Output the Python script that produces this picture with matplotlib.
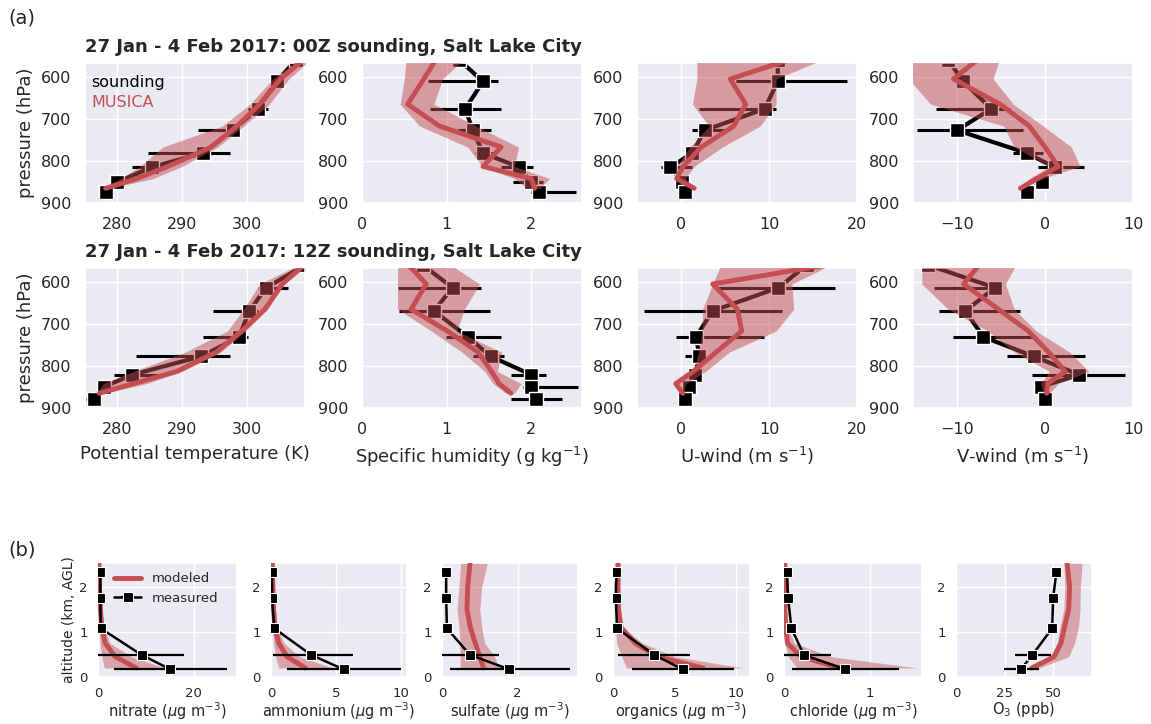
import numpy as np
import matplotlib
matplotlib.use("Agg")
import matplotlib.pyplot as plt
import seaborn as sns

sns.set_theme(style="darkgrid")
plt.rcParams["font.family"] = ["DejaVu Sans"]

RED = "#c44e52"
INK = "#262626"

# ---------------- (a) soundings vs MUSICA ----------------
# sounding pressure levels (hPa)
p_snd_00 = [560, 611, 676, 727, 781, 815, 850, 873]
p_snd_12 = [560, 614, 669, 731, 777, 821, 849, 878]
# model pressure levels (hPa)
p_mod = [560, 605, 665, 717, 767, 813, 842, 865]

# 00Z soundings: mean, low, high
theta00 = [307.6, 304.6, 301.7, 297.8, 293.2, 285.3, 280.0, 278.3]
theta00_lo = [307.3, 304.1, 300.2, 292.4, 284.7, 282.3, 278.8, 277.9]
theta00_hi = [307.9, 305.1, 303.3, 298.6, 297.4, 287.5, 281.5, 278.7]
qv00 = [1.15, 1.43, 1.22, 1.31, 1.43, 1.86, 2.00, 2.09]
qv00_lo = [1.12, 0.78, 0.80, 1.13, 1.33, 1.64, 1.78, 2.00]
qv00_hi = [1.18, 1.61, 1.64, 1.53, 1.55, 2.02, 2.14, 2.53]
u00 = [11.0, 11.0, 9.5, 2.7, 1.3, -1.2, 0.15, 0.5]
u00_lo = [10.7, 6.2, 2.0, 1.3, 0.5, -2.3, -0.3, 0.2]
u00_hi = [11.3, 18.9, 10.8, 4.9, 2.1, 1.3, 0.6, 0.8]
v00 = [-11.0, -9.3, -6.1, -10.0, -2.1, 1.1, -0.3, -2.0]
v00_lo = [-11.3, -9.8, -12.4, -14.6, -3.6, -0.8, -0.6, -2.3]
v00_hi = [-10.7, -8.8, -4.0, -2.5, -0.2, 4.4, 0.0, -1.7]

# 12Z soundings
theta12 = [309.0, 303.0, 300.4, 298.8, 293.0, 282.3, 278.0, 276.4]
theta12_lo = [308.7, 301.8, 294.8, 293.2, 282.9, 279.5, 277.3, 275.2]
theta12_hi = [309.3, 306.4, 301.8, 300.2, 297.4, 286.5, 279.0, 277.0]
qv12 = [0.72, 1.07, 0.85, 1.25, 1.52, 2.00, 2.00, 2.06]
qv12_lo = [0.70, 0.42, 0.44, 0.99, 1.31, 1.76, 1.90, 1.76]
qv12_hi = [0.74, 1.41, 1.51, 1.64, 1.68, 2.18, 2.55, 2.36]
u12 = [14.3, 11.06, 3.6, 1.7, 2.1, 1.6, 0.9, 0.4]
u12_lo = [14.0, 4.0, -4.2, -0.6, 0.4, 1.3, 0.6, 0.1]
u12_hi = [14.6, 17.55, 11.5, 9.4, 2.8, 1.9, 1.2, 0.7]
v12 = [-13.3, -5.66, -9.06, -7.0, -1.3, 3.9, -0.45, 0.0]
v12_lo = [-13.6, -12.6, -12.0, -10.4, -4.3, -1.5, -0.7, -0.3]
v12_hi = [-13.0, -4.9, -2.8, -1.1, 4.5, 9.06, -0.2, 0.3]

# MUSICA 00Z: mean, low, high
theta00_m = [308.7, 305.2, 302.0, 298.5, 294.5, 287.8, 283.0, 278.2]
theta00_m_lo = [307.8, 304.0, 300.5, 296.2, 287.0, 283.5, 280.5, 277.6]
theta00_m_hi = [309.8, 306.5, 303.5, 299.5, 295.5, 290.0, 285.5, 278.8]
qv00_m = [0.87, 0.73, 0.54, 0.915, 1.645, 1.43, 2.00, 2.04]
qv00_m_lo = [0.52, 0.50, 0.45, 0.68, 1.25, 1.42, 1.80, 1.95]
qv00_m_hi = [1.20, 0.95, 0.85, 1.35, 1.85, 1.80, 2.22, 2.10]
u00_m = [12.2, 5.6, 7.35, 6.0, 2.3, 0.25, -0.5, 1.5]
u00_m_lo = [1.8, 1.8, 1.3, 3.2, 1.0, -0.5, -0.7, 1.0]
u00_m_hi = [16.0, 10.8, 10.8, 9.0, 4.7, 1.5, 0.5, 1.7]
v00_m = [-7.7, -10.4, -5.1, -1.8, 0.0, 1.5, -0.9, -2.8]
v00_m_lo = [-15.5, -15.5, -13.0, -4.7, -3.5, 0.5, -1.8, -3.0]
v00_m_hi = [-5.2, -5.9, -3.6, -0.2, 3.0, 4.0, -0.3, -2.5]

# MUSICA 12Z
theta12_m = [308.8, 305.5, 302.8, 299.2, 295.3, 289.2, 282.5, 277.2]
theta12_m_lo = [308.0, 302.0, 299.5, 297.0, 290.5, 282.5, 277.8, 276.8]
theta12_m_hi = [309.5, 305.8, 303.2, 299.8, 296.0, 290.0, 284.5, 278.0]
qv12_m = [0.55, 0.76, 0.58, 1.01, 1.37, 1.53, 1.62, 1.76]
qv12_m_lo = [0.42, 0.42, 0.42, 0.82, 1.18, 1.45, 1.55, 1.70]
qv12_m_hi = [1.05, 1.39, 1.21, 1.12, 1.65, 1.60, 1.88, 1.80]
u12_m = [16.5, 3.6, 6.4, 6.9, 4.0, 1.4, -0.6, 0.2]
u12_m_lo = [4.5, 3.6, 2.45, 2.4, 2.0, 1.4, -0.6, 0.2]
u12_m_hi = [17.0, 12.6, 12.8, 10.8, 5.5, 2.8, 0.5, 0.3]
v12_m = [-7.5, -9.25, -5.3, -1.9, 0.4, 2.3, 0.3, 0.2]
v12_m_lo = [-14.0, -14.0, -11.0, -6.5, -3.5, 0.5, -0.5, -0.2]
v12_m_hi = [-3.3, -4.5, -3.5, -1.0, 2.8, 5.0, 1.5, 0.5]

a_xlabels = ["Potential temperature (K)", r"Specific humidity (g kg$^{-1}$)",
             r"U-wind (m s$^{-1}$)", r"V-wind (m s$^{-1}$)"]
a_xlims = [(275, 309), (0, 2.6), (-5, 20), (-15, 10)]
a_xticks = [[280, 290, 300], [0, 1, 2], [0, 10, 20], [-10, 0, 10]]
a_titles = ["27 Jan - 4 Feb 2017: 00Z sounding, Salt Lake City",
            "27 Jan - 4 Feb 2017: 12Z sounding, Salt Lake City"]
p_ticks = [600, 700, 800, 900]

# ---------------- (b) aircraft profiles ----------------
alt_meas = [0.17, 0.49, 1.08, 1.76, 2.34]
alt_mod = [0.2, 0.45, 0.75, 1.1, 1.5, 2.0, 2.6]

nitrate_meas = [15.1, 9.1, 0.55, 0.5, 0.5]
nitrate_meas_lo = [3.3, 0.0, 0.35, 0.35, 0.35]
nitrate_meas_hi = [27.0, 17.9, 0.75, 0.65, 0.65]
nitrate_mod = [8.0, 3.6, 1.5, 0.8, 0.5, 0.3, 0.2]
nitrate_mod_lo = [1.3, 0.8, 0.4, 0.2, 0.1, 0.05, 0.05]
nitrate_mod_hi = [14.0, 7.0, 2.5, 1.2, 0.8, 0.5, 0.4]

ammonium_meas = [5.6, 3.1, 0.25, 0.08, 0.08]
ammonium_meas_lo = [1.2, 0.15, 0.15, 0.05, 0.05]
ammonium_meas_hi = [10.0, 6.3, 0.35, 0.12, 0.12]
ammonium_mod = [2.65, 1.24, 0.6, 0.3, 0.2, 0.15, 0.1]
ammonium_mod_lo = [0.6, 0.35, 0.2, 0.1, 0.07, 0.05, 0.05]
ammonium_mod_hi = [4.8, 2.2, 1.0, 0.5, 0.35, 0.25, 0.2]

sulfate_meas = [1.78, 0.74, 0.13, 0.11, 0.11]
sulfate_meas_lo = [0.2, 0.0, 0.09, 0.09, 0.09]
sulfate_meas_hi = [3.4, 1.5, 0.17, 0.13, 0.13]
sulfate_mod = [1.1, 1.0, 0.88, 0.75, 0.66, 0.68, 0.75]
sulfate_mod_lo = [0.48, 0.48, 0.48, 0.45, 0.40, 0.45, 0.50]
sulfate_mod_hi = [1.52, 1.39, 1.13, 1.05, 1.0, 1.05, 1.22]

organics_meas = [5.65, 3.35, 0.33, 0.22, 0.27]
organics_meas_lo = [1.5, 0.4, 0.2, 0.15, 0.2]
organics_meas_hi = [9.8, 6.2, 0.45, 0.3, 0.35]
organics_mod = [7.3, 3.6, 1.8, 0.65, 0.45, 0.4, 0.4]
organics_mod_lo = [1.1, 0.7, 0.3, 0.2, 0.2, 0.25, 0.3]
organics_mod_hi = [10.6, 5.0, 2.4, 0.8, 0.6, 0.55, 0.6]

chloride_meas = [0.71, 0.23, 0.086, 0.047, 0.035]
chloride_meas_lo = [0.09, 0.0, 0.06, 0.03, 0.02]
chloride_meas_hi = [1.33, 0.55, 0.11, 0.06, 0.05]
chloride_mod = [0.65, 0.2, 0.04, 0.02, 0.01, 0.01, 0.01]
chloride_mod_lo = [0.15, 0.05, 0.01, 0.0, 0.0, 0.0, 0.0]
chloride_mod_hi = [1.55, 0.55, 0.12, 0.04, 0.03, 0.03, 0.03]

o3_meas = [33.4, 39.3, 49.5, 50.0, 51.7]
o3_meas_lo = [24.6, 30.5, 49.0, 49.5, 51.2]
o3_meas_hi = [42.7, 48.7, 50.0, 50.5, 52.2]
o3_mod = [39.0, 50.5, 54.0, 55.8, 58.0, 58.5, 57.0]
o3_mod_lo = [37.5, 48.5, 52.0, 53.5, 55.5, 56.0, 55.5]
o3_mod_hi = [42.7, 58.0, 61.0, 63.0, 63.8, 64.0, 65.0]

b_xlabels = [r"nitrate ($\mu$g m$^{-3}$)", r"ammonium ($\mu$g m$^{-3}$)",
             r"sulfate ($\mu$g m$^{-3}$)", r"organics ($\mu$g m$^{-3}$)",
             r"chloride ($\mu$g m$^{-3}$)", r"O$_3$ (ppb)"]
b_xlims = [(0, 29), (0, 10.5), (0, 3.6), (0, 11.1), (0, 1.6), (0, 70)]
b_xticks = [[0, 20], [0, 5, 10], [0, 2], [0, 5, 10], [0, 1], [0, 25, 50]]
alt_ticks = [0, 1, 2]

# ---------------- figure ----------------
W, H = 1151, 724
fig = plt.figure(figsize=(W / 100, H / 100), dpi=100)


def px_axes(left, top, right, bottom):
    return fig.add_axes([left / W, 1 - bottom / H, (right - left) / W, (bottom - top) / H])


def sounding_panel(ax, p_s, x, lo, hi, xm, xm_lo, xm_hi):
    x = np.asarray(x); lo = np.asarray(lo); hi = np.asarray(hi)
    xerr = np.vstack([np.clip(x - lo, 0, None), np.clip(hi - x, 0, None)])
    ax.errorbar(x, p_s, xerr=xerr, fmt="-s", color="black", lw=3, elinewidth=2.2,
                capsize=0, ms=9.5, mec="white", mew=1, zorder=2)
    ax.fill_betweenx(p_mod, xm_lo, xm_hi, color=RED, alpha=0.5, lw=0, zorder=3)
    ax.plot(xm, p_mod, color=RED, lw=3.5, zorder=4)


col_lr = [(85, 305), (362, 582), (637, 857), (913, 1133)]
rows = [(63, 203), (268, 408)]

snd = [
    [(theta00, theta00_lo, theta00_hi), (qv00, qv00_lo, qv00_hi),
     (u00, u00_lo, u00_hi), (v00, v00_lo, v00_hi)],
    [(theta12, theta12_lo, theta12_hi), (qv12, qv12_lo, qv12_hi),
     (u12, u12_lo, u12_hi), (v12, v12_lo, v12_hi)],
]
mod = [
    [(theta00_m, theta00_m_lo, theta00_m_hi), (qv00_m, qv00_m_lo, qv00_m_hi),
     (u00_m, u00_m_lo, u00_m_hi), (v00_m, v00_m_lo, v00_m_hi)],
    [(theta12_m, theta12_m_lo, theta12_m_hi), (qv12_m, qv12_m_lo, qv12_m_hi),
     (u12_m, u12_m_lo, u12_m_hi), (v12_m, v12_m_lo, v12_m_hi)],
]
p_snd = [p_snd_00, p_snd_12]

for r, (top, bot) in enumerate(rows):
    for c, (lft, rgt) in enumerate(col_lr):
        ax = px_axes(lft, top, rgt, bot)
        sounding_panel(ax, p_snd[r], *snd[r][c], *mod[r][c])
        ax.set_ylim(900, 567)
        ax.set_xlim(*a_xlims[c])
        ax.set_xticks(a_xticks[c])
        ax.set_yticks(p_ticks)
        ax.tick_params(labelsize=11.5, colors=INK, pad=4)
        if c == 0:
            ax.set_ylabel("pressure (hPa)", fontsize=13, color=INK)
        if r == 1:
            ax.set_xlabel(a_xlabels[c], fontsize=13, color=INK, labelpad=6)
        if r == 0 and c == 0:
            ax.text(0.03, 0.86, "sounding", transform=ax.transAxes, fontsize=11.5,
                    color="black", va="center")
            ax.text(0.03, 0.72, "MUSICA", transform=ax.transAxes, fontsize=11.5,
                    color=RED, va="center")
    fig.text(85 / W, 1 - (top - 16) / H, a_titles[r], fontsize=13, fontweight="bold",
             color=INK, va="center")

b_cols = [(98, 237), (271, 407), (442, 578), (613, 750), (784, 922), (956, 1092)]
b_meas = [(nitrate_meas, nitrate_meas_lo, nitrate_meas_hi),
          (ammonium_meas, ammonium_meas_lo, ammonium_meas_hi),
          (sulfate_meas, sulfate_meas_lo, sulfate_meas_hi),
          (organics_meas, organics_meas_lo, organics_meas_hi),
          (chloride_meas, chloride_meas_lo, chloride_meas_hi),
          (o3_meas, o3_meas_lo, o3_meas_hi)]
b_mod = [(nitrate_mod, nitrate_mod_lo, nitrate_mod_hi),
         (ammonium_mod, ammonium_mod_lo, ammonium_mod_hi),
         (sulfate_mod, sulfate_mod_lo, sulfate_mod_hi),
         (organics_mod, organics_mod_lo, organics_mod_hi),
         (chloride_mod, chloride_mod_lo, chloride_mod_hi),
         (o3_mod, o3_mod_lo, o3_mod_hi)]

for i, (lft, rgt) in enumerate(b_cols):
    ax = px_axes(lft, 563, rgt, 677)
    xm, xm_lo, xm_hi = b_mod[i]
    ax.fill_betweenx(alt_mod, xm_lo, xm_hi, color=RED, alpha=0.45, lw=0, zorder=2)
    ax.plot(xm, alt_mod, color=RED, lw=3.5, zorder=3, label="modeled")
    x, lo, hi = (np.asarray(a) for a in b_meas[i])
    xerr = np.vstack([np.clip(x - lo, 0, None), np.clip(hi - x, 0, None)])
    ax.errorbar(x, alt_meas, xerr=xerr, fmt="-s", color="black", lw=1.8,
                elinewidth=1.6, capsize=0, ms=7, mec="white", mew=0.8, zorder=4,
                label="measured")
    ax.set_xlim(*b_xlims[i])
    ax.set_ylim(0, 2.53)
    ax.set_xticks(b_xticks[i])
    ax.set_yticks(alt_ticks)
    ax.tick_params(labelsize=9.5, colors=INK, pad=1.5)
    ax.set_xlabel(b_xlabels[i], fontsize=10.5, color=INK, labelpad=0)
    if i == 0:
        ax.set_ylabel("altitude (km, AGL)", fontsize=10, color=INK, labelpad=2)
        ax.legend(loc="upper right", frameon=False, fontsize=9.5,
                  handlelength=2.0, borderaxespad=0.3, bbox_to_anchor=(0.93, 1.0))

fig.text(8 / W, 1 - 18 / H, "(a)", fontsize=14, color=INK, va="center")
fig.text(8 / W, 1 - 550 / H, "(b)", fontsize=14, color=INK, va="center")

fig.savefig("out.png", dpi=100, facecolor="white")
